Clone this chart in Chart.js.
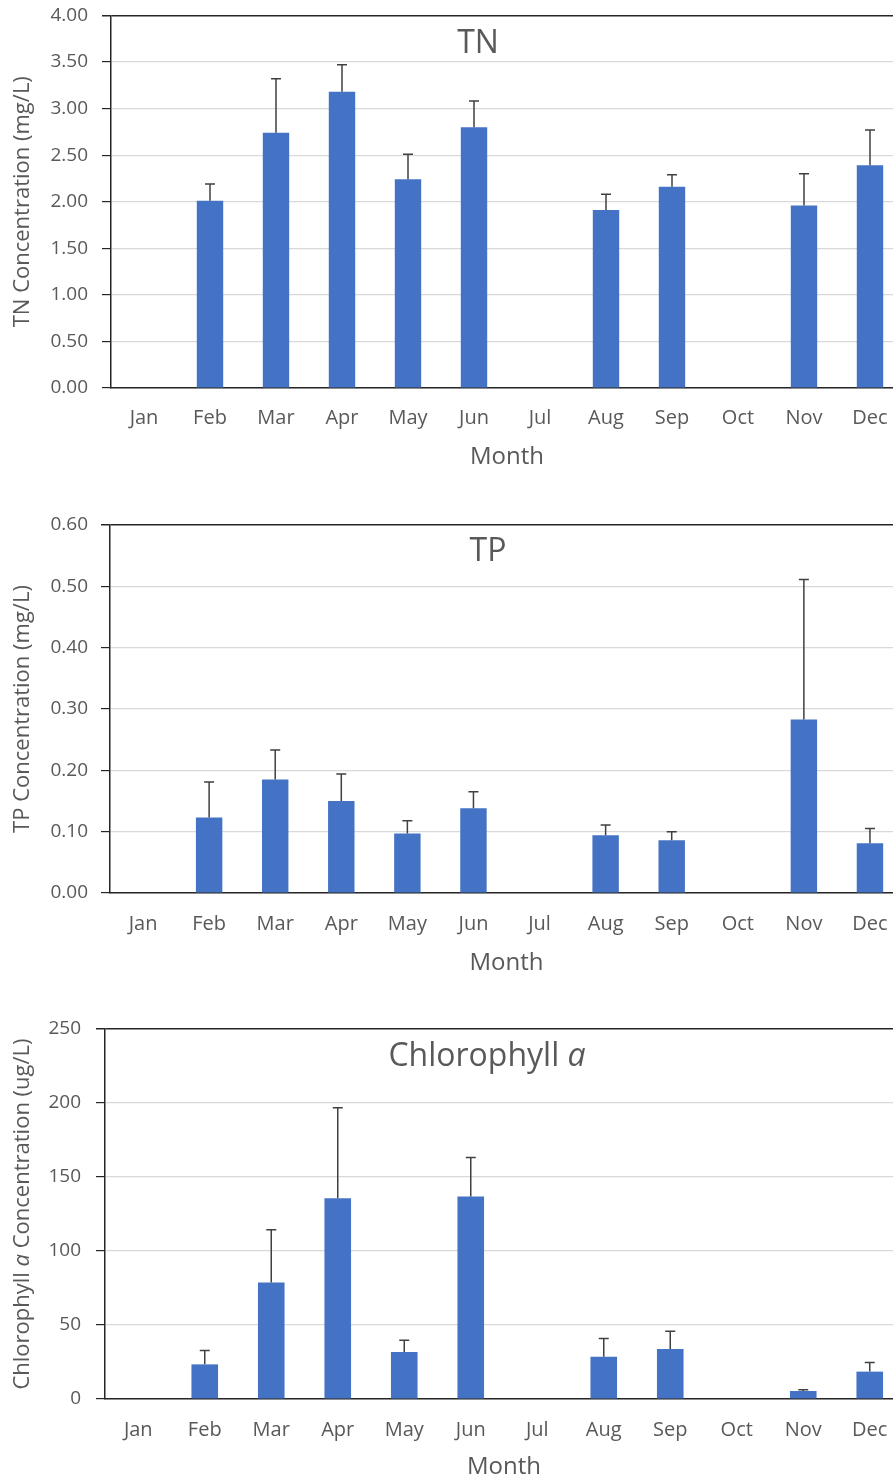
<!DOCTYPE html>
<html>
<head>
<meta charset="utf-8">
<script src="https://cdn.jsdelivr.net/npm/chart.js@4.4.1/dist/chart.umd.min.js"></script>
<style>
  html, body { margin: 0; padding: 0; background: #fff; overflow: hidden; width: 893px; height: 1479px; }
  body { position: relative; }
  canvas { position: absolute; left: 0; }
</style>
</head>
<body>
<canvas id="tn" width="910" height="500" style="top:-10px"></canvas>
<canvas id="tp" width="910" height="490" style="top:495px"></canvas>
<canvas id="chl" width="910" height="479" style="top:1000px"></canvas>
<script>
const months = ['Jan', 'Feb', 'Mar', 'Apr', 'May', 'Jun', 'Jul', 'Aug', 'Sep', 'Oct', 'Nov', 'Dec'];

// TN (mg/L): mean and upper error
const tnMean = [null, 2.01, 2.74, 3.18, 2.24, 2.80, null, 1.91, 2.16, null, 1.96, 2.39];
const tnErr  = [null, 0.18, 0.58, 0.29, 0.27, 0.28, null, 0.17, 0.13, null, 0.34, 0.38];

// TP (mg/L)
const tpMean = [null, 0.123, 0.185, 0.150, 0.097, 0.138, null, 0.094, 0.086, null, 0.283, 0.081];
const tpErr  = [null, 0.058, 0.048, 0.044, 0.021, 0.027, null, 0.017, 0.014, null, 0.228, 0.024];

// Chlorophyll a (ug/L)
const chlMean = [null, 23.4, 78.7, 135.7, 31.8, 136.8, null, 28.6, 33.8, null, 5.4, 18.5];
const chlErr  = [null, 9.3, 35.6, 61.1, 7.9, 26.4, null, 12.2, 12.0, null, 0.8, 6.1];

Chart.defaults.font.family = '"Open Sans", sans-serif';
const textGray = '#595959';
const axisDark = '#262626';

// upper error bars with caps
const errorBars = {
  id: 'errorBars',
  afterDatasetsDraw(chart, args, opts) {
    const meta = chart.getDatasetMeta(0);
    const y = chart.scales.y;
    const ctx = chart.ctx;
    const vals = chart.data.datasets[0].data;
    ctx.save();
    ctx.strokeStyle = '#404040';
    ctx.lineWidth = 1.5;
    opts.errors.forEach((e, i) => {
      if (vals[i] == null || e == null) return;
      const bar = meta.data[i];
      const top = y.getPixelForValue(vals[i] + e);
      ctx.beginPath();
      ctx.moveTo(bar.x, bar.y);
      ctx.lineTo(bar.x, top);
      ctx.moveTo(bar.x - 5, top);
      ctx.lineTo(bar.x + 5, top);
      ctx.stroke();
    });
    ctx.restore();
  }
};

// titles made of parts (some italic)
const textParts = {
  id: 'textParts',
  afterDraw(chart, args, opts) {
    const ctx = chart.ctx;
    (opts.items || []).forEach(item => {
      ctx.save();
      ctx.fillStyle = textGray;
      ctx.textBaseline = 'middle';
      ctx.textAlign = 'left';
      const fonts = item.parts.map(p => (p.italic ? 'italic ' : '') + item.size + 'px "Open Sans"');
      const widths = item.parts.map((p, k) => { ctx.font = fonts[k]; return ctx.measureText(p.text).width; });
      const total = widths.reduce((a, b) => a + b, 0);
      const cy = item.y == null ? (chart.chartArea.top + chart.chartArea.bottom) / 2 : item.y;
      ctx.translate(item.x, cy);
      if (item.rotate) ctx.rotate(-Math.PI / 2);
      let x = -total / 2;
      item.parts.forEach((p, k) => {
        ctx.font = fonts[k];
        ctx.fillText(p.text, x, 0);
        x += widths[k];
      });
      ctx.restore();
    });
  }
};

function makeChart(id, values, errors, yMax, yStep, decimals, box, items) {
  return new Chart(document.getElementById(id), {
    type: 'bar',
    data: {
      labels: months,
      datasets: [{
        data: values,
        backgroundColor: '#4472C4',
        barPercentage: 0.4,
        categoryPercentage: 1
      }]
    },
    options: {
      responsive: false,
      animation: false,
      layout: { padding: { left: 0, right: 7, top: box.top, bottom: box.padBottom } },
      plugins: {
        legend: { display: false },
        tooltip: { enabled: false },
        errorBars: { errors: errors },
        textParts: { items: items }
      },
      scales: {
        x: {
          grid: { display: false, drawTicks: false },
          border: { color: axisDark, width: 1.5 },
          ticks: { color: textGray, font: { size: 20 }, padding: box.xPad },
          title: { display: true, text: 'Month', color: textGray, font: { size: 24 }, padding: { top: 0, bottom: -3 } },
          afterFit: s => { s.height = box.xH; }
        },
        y: {
          min: 0,
          max: yMax,
          ticks: {
            stepSize: yStep,
            color: textGray,
            font: { size: 19 },
            padding: box.yPad,
            callback: v => v.toFixed(decimals)
          },
          grid: {
            color: c => (c.tick && Math.abs(c.tick.value - yMax) < 1e-9) ? axisDark : '#d9d9d9',
            lineWidth: c => (c.tick && Math.abs(c.tick.value - yMax) < 1e-9) ? 1.5 : 1.2,
            tickColor: axisDark,
            tickLength: 9
          },
          border: { color: axisDark, width: 1.5 },
          afterFit: s => { s.width = box.left; }
        }
      }
    },
    plugins: [errorBars, textParts]
  });
}

// canvas 1 is shifted up by 10px, so its y positions are +10
makeChart('tn', tnMean, tnErr, 4, 0.5, 2,
  { top: 25, padBottom: 21, xH: 81, xPad: 18, yPad: 14, left: 111 },
  [
    { parts: [{ text: 'TN' }], size: 32, x: 478, y: 54 },
    { parts: [{ text: 'TN Concentration (mg/L)' }], size: 22, x: 23, rotate: true }
  ]);

makeChart('tp', tpMean, tpErr, 0.6, 0.1, 2,
  { top: 30, padBottom: 10, xH: 82, xPad: 19, yPad: 13, left: 110 },
  [
    { parts: [{ text: 'TP' }], size: 32, x: 488, y: 57 },
    { parts: [{ text: 'TP Concentration (mg/L)' }], size: 22, x: 23, rotate: true }
  ]);

makeChart('chl', chlMean, chlErr, 250, 50, 0,
  { top: 29, padBottom: 0, xH: 80, xPad: 19, yPad: 15, left: 105 },
  [
    { parts: [{ text: 'Chlorophyll ' }, { text: 'a', italic: true }], size: 32, x: 487, y: 57 },
    { parts: [{ text: 'Chlorophyll ' }, { text: 'a', italic: true }, { text: ' Concentration (ug/L)' }], size: 22, x: 23, rotate: true }
  ]);
</script>
</body>
</html>
